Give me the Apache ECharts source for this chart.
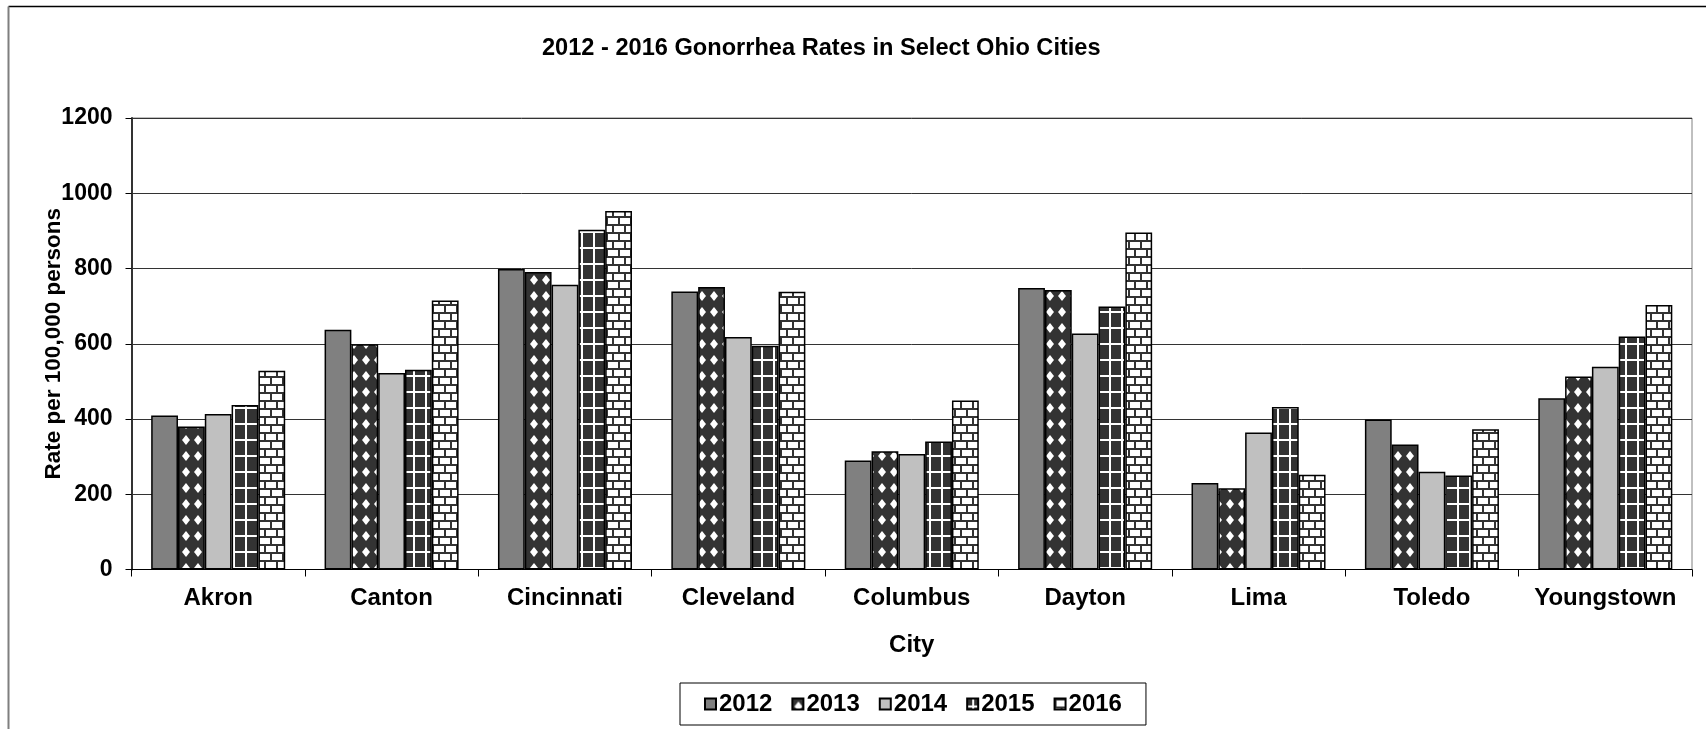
<!DOCTYPE html>
<html>
<head>
<meta charset="utf-8">
<script src="https://cdn.jsdelivr.net/npm/echarts@6/dist/echarts.min.js"></script>
<style>
html,body{margin:0;padding:0;background:#fff;}
#chart{width:1706px;height:729px;}
</style>
</head>
<body>
<div id="chart"></div>
<script>
const titleText = '2012 - 2016 Gonorrhea Rates in Select Ohio Cities';
const cities = ['Akron','Canton','Cincinnati','Cleveland','Columbus','Dayton','Lima','Toledo','Youngstown'];
const years = ['2012','2013','2014','2015','2016'];
const y2012 = [409, 637, 799, 739, 290, 748, 230, 399, 455];
const y2013 = [380, 599, 791, 751, 314, 743, 216, 332, 513];
const y2014 = [413, 522, 757, 618, 307, 627, 364, 260, 539];
const y2015 = [437, 531, 903, 595, 340, 699, 432, 250, 619];
const y2016 = [528, 715, 953, 738, 449, 896, 252, 373, 703];
const yTicks = [0, 200, 400, 600, 800, 1000, 1200];

function tile(w, h, draw) {
  const c = document.createElement('canvas');
  c.width = w; c.height = h;
  const g = c.getContext('2d');
  draw(g, w, h);
  return c;
}
const DARK = '#333333';
const diamondTile = tile(12, 16, (g, w, h) => {
  g.fillStyle = DARK; g.fillRect(0, 0, w, h);
  g.fillStyle = '#fff';
  g.beginPath();
  g.moveTo(6, 3); g.lineTo(10, 8); g.lineTo(6, 13); g.lineTo(2, 8); g.closePath();
  g.fill();
});
const gridTile = tile(12, 16, (g, w, h) => {
  g.fillStyle = DARK; g.fillRect(0, 0, w, h);
  g.fillStyle = '#fff';
  g.fillRect(5, 0, 2, h);
  g.fillRect(0, 7, w, 2);
});
const brickTile = tile(12, 16, (g, w, h) => {
  g.fillStyle = '#fff'; g.fillRect(0, 0, w, h);
  g.fillStyle = DARK;
  g.fillRect(0, 0, w, 2);
  g.fillRect(0, 8, w, 2);
  g.fillRect(0, 0, 2, 8);
  g.fillRect(6, 8, 2, 8);
});

const fills = [
  '#808080',
  {image: diamondTile, repeat: 'repeat'},
  '#c0c0c0',
  {image: gridTile, repeat: 'repeat'},
  {image: brickTile, repeat: 'repeat'}
];
const seriesData = [y2012, y2013, y2014, y2015, y2016];

const FONT = 'Liberation Sans, Arial, sans-serif';
const chart = echarts.init(document.getElementById('chart'), null, {renderer: 'canvas'});
chart.setOption({
  animation: false,
  backgroundColor: '#fff',
  title: {
    text: titleText,
    left: 537, top: 31,
    textStyle: {fontFamily: FONT, fontWeight: 'bold', fontSize: 23.6, color: '#000'}
  },
  legend: {
    data: years,
    left: 680, top: 683,
    padding: [9, 24, 9, 24],
    itemGap: 19,
    itemWidth: 11, itemHeight: 11,
    borderColor: '#000', borderWidth: 1,
    icon: 'rect',
    textStyle: {fontFamily: FONT, fontWeight: 'bold', fontSize: 24, color: '#000', padding: [0,0,0,-2]}
  },
  grid: {
    left: 131.5, right: 14, top: 118, bottom: 159.5,
    show: true, borderColor: '#808080', borderWidth: 1, backgroundColor: 'transparent'
  },
  xAxis: {
    type: 'category',
    data: cities,
    name: 'City',
    nameLocation: 'middle',
    nameGap: 64,
    nameTextStyle: {fontFamily: FONT, fontWeight: 'bold', fontSize: 24, color: '#000'},
    axisLine: {lineStyle: {color: '#000', width: 1}},
    axisTick: {show: true, length: 7, lineStyle: {color: '#000'}},
    axisLabel: {interval: 0, fontFamily: FONT, fontWeight: 'bold', fontSize: 24, color: '#000', margin: 17},
    splitLine: {show: false}
  },
  yAxis: {
    type: 'value',
    min: 0, max: 1200, interval: 200,
    name: 'Rate per 100,000 persons',
    nameLocation: 'middle',
    nameGap: 66,
    nameMoveOverlap: false,
    nameTextStyle: {fontFamily: FONT, fontWeight: 'bold', fontSize: 22.5, color: '#000'},
    axisLine: {show: true, lineStyle: {color: '#333', width: 2}},
    axisTick: {show: true, length: 6, lineStyle: {color: '#000'}},
    axisLabel: {fontFamily: FONT, fontWeight: 'bold', fontSize: 23, color: '#000', margin: 19,
      formatter: v => yTicks.includes(v) ? String(v) : ''},
    splitLine: {show: true, lineStyle: {color: '#333', width: 1}}
  },
  graphic: [
    {type: 'line', shape: {x1: 8.5, y1: 6.5, x2: 1706, y2: 6.5}, style: {stroke: '#000', lineWidth: 1.5}, silent: true},
    {type: 'line', shape: {x1: 8.5, y1: 6.5, x2: 8.5, y2: 729}, style: {stroke: '#7f7f7f', lineWidth: 2}, silent: true}
  ],
  series: years.map((y, i) => ({
    name: y,
    type: 'bar',
    data: seriesData[i],
    barGap: '0%',
    barCategoryGap: '22.7%',
    itemStyle: {color: fills[i], borderColor: '#000', borderWidth: 1.5},
    emphasis: {disabled: true}
  }))
});
</script>
</body>
</html>
